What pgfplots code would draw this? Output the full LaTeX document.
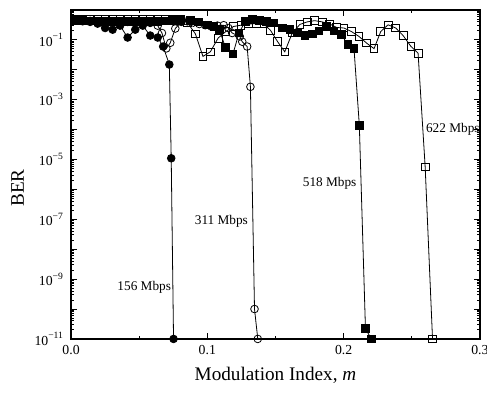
\documentclass[border=0pt]{standalone}
\usepackage{fontspec}
\setmainfont{Liberation Serif}
\usepackage{pgfplots}
\pgfplotsset{compat=1.18}
\begin{document}
\begin{tikzpicture}
\useasboundingbox (-44.4pt,-36.25pt) rectangle (260pt,211.85pt);
\begin{axis}[
  at={(0,0)}, anchor=south west,
  scale only axis, width=255.6pt, height=205.6pt,
  xmin=0, xmax=0.3, ymode=log, ymin=1e-11, ymax=1,
  axis line style={line width=0.8pt},
  tick align=inside, tick style={black, line width=0.6pt},
  major tick length=3.5pt, minor tick length=1.6pt,
  xtick={0,0.1,0.2,0.3}, xticklabels={0.0,0.1,0.2,0.3},
  minor x tick num=1,
  ytick={1e-11,1e-10,1e-9,1e-8,1e-7,1e-6,1e-5,1e-4,1e-3,1e-2,1e-1,1},
  minor ytick={2e-11,3e-11,4e-11,5e-11,6e-11,7e-11,8e-11,9e-11,
    2e-10,3e-10,4e-10,5e-10,6e-10,7e-10,8e-10,9e-10,
    2e-9,3e-9,4e-9,5e-9,6e-9,7e-9,8e-9,9e-9,
    2e-8,3e-8,4e-8,5e-8,6e-8,7e-8,8e-8,9e-8,
    2e-7,3e-7,4e-7,5e-7,6e-7,7e-7,8e-7,9e-7,
    2e-6,3e-6,4e-6,5e-6,6e-6,7e-6,8e-6,9e-6,
    2e-5,3e-5,4e-5,5e-5,6e-5,7e-5,8e-5,9e-5,
    2e-4,3e-4,4e-4,5e-4,6e-4,7e-4,8e-4,9e-4,
    2e-3,3e-3,4e-3,5e-3,6e-3,7e-3,8e-3,9e-3,
    2e-2,3e-2,4e-2,5e-2,6e-2,7e-2,8e-2,9e-2,
    2e-1,3e-1,4e-1,5e-1,6e-1,7e-1,8e-1,9e-1},
  yticklabels={10\textsuperscript{−11},,10\textsuperscript{−9},,10\textsuperscript{−7},,10\textsuperscript{−5},,10\textsuperscript{−3},,10\textsuperscript{−1},},
  ticklabel style={font=\fontsize{8.6}{10}\selectfont},
  xticklabel style={yshift=-0.5pt},
  yticklabel style={xshift=-1pt},
  xlabel={Modulation Index, \textit{m}},
  ylabel={BER},
  label style={font=\fontsize{12}{14}\selectfont},
  xlabel style={at={(axis description cs:0.5,-0.1095)}, anchor=center},
  ylabel style={at={(axis description cs:-0.1307,0.459)}, anchor=center},
  every axis plot/.append style={black, line width=0.5pt, mark size=2.4pt},
]
% 156 Mbps
\addplot[mark=*, mark options={fill=black}] coordinates {
(0.0029,0.45)(0.0085,0.42)(0.0140,0.40)(0.0195,0.35)(0.0250,0.25)(0.0305,0.22)
(0.0360,0.30)(0.0415,0.12)(0.0471,0.22)(0.0526,0.30)(0.0581,0.14)(0.0636,0.12)
(0.0676,0.06)(0.0721,0.015)(0.0735,1.1e-5)(0.0752,1e-11)};
% 311 Mbps
\addplot[mark=o, mark options={fill=white}] coordinates {
(0.0029,0.45)(0.0085,0.44)(0.0140,0.43)(0.0195,0.42)(0.0250,0.42)(0.0305,0.40)
(0.0360,0.42)(0.0415,0.40)(0.0471,0.40)(0.0526,0.38)(0.0581,0.37)(0.0636,0.30)
(0.0667,0.17)(0.0699,0.052)(0.0728,0.08)(0.0765,0.24)(0.0809,0.40)(0.0853,0.42)
(0.0897,0.38)(0.0941,0.34)(0.0985,0.31)(0.1029,0.28)(0.1074,0.30)(0.1120,0.31)
(0.1154,0.25)(0.1182,0.17)(0.1238,0.13)(0.1256,0.087)(0.1292,0.06)
(0.1316,2.7e-3)(0.1346,1e-10)(0.1370,1e-11)};
% 518 Mbps
\addplot[mark=square*, mark options={fill=black}] coordinates {
(0.0029,0.44)(0.0085,0.44)(0.0140,0.43)(0.0195,0.43)(0.0250,0.42)(0.0305,0.42)
(0.0360,0.43)(0.0415,0.42)(0.0471,0.42)(0.0526,0.43)(0.0581,0.42)(0.0636,0.42)
(0.0691,0.43)(0.0746,0.44)(0.0801,0.45)(0.0875,0.44)(0.0936,0.40)(0.0998,0.32)
(0.1047,0.28)(0.1088,0.22)(0.1132,0.057)(0.1188,0.034)(0.1232,0.17)(0.1279,0.42)
(0.1331,0.48)(0.1382,0.45)(0.1434,0.42)(0.1488,0.37)(0.1549,0.25)(0.1605,0.22)
(0.1660,0.17)(0.1716,0.14)(0.1770,0.16)(0.1819,0.20)(0.1875,0.28)(0.1929,0.20)
(0.1983,0.15)(0.2032,0.069)(0.2076,0.051)(0.2115,1.4e-4)(0.2160,2.2e-11)(0.2203,1e-11)};
% 622 Mbps
\addplot[mark=square, mark options={fill=white}] coordinates {
(0.0029,0.5)(0.0085,0.5)(0.0140,0.5)(0.0195,0.5)(0.0250,0.5)(0.0305,0.5)
(0.0360,0.5)(0.0415,0.5)(0.0471,0.5)(0.0526,0.5)(0.0581,0.5)(0.0636,0.5)
(0.0691,0.5)(0.0746,0.5)(0.0801,0.5)(0.0855,0.37)(0.0912,0.16)(0.0968,0.028)
(0.1022,0.04)(0.1079,0.115)(0.1135,0.19)(0.1191,0.28)(0.1246,0.31)(0.1301,0.34)
(0.1358,0.35)(0.1414,0.34)(0.1463,0.21)(0.1515,0.088)(0.1568,0.04)(0.1623,0.17)
(0.1679,0.33)(0.1733,0.40)(0.1787,0.44)(0.1843,0.40)(0.1897,0.34)(0.1949,0.26)
(0.2002,0.25)(0.2057,0.19)(0.2113,0.13)(0.2167,0.079)(0.2223,0.051)(0.2272,0.19)
(0.2326,0.32)(0.2382,0.25)(0.2436,0.14)(0.2493,0.061)(0.2546,0.036)
(0.2598,5.7e-6)(0.2652,1e-11)};
\node[font=\fontsize{8.3}{10}\selectfont] at (axis cs:0.0537,5.5e-10) {156 Mbps};
\node[font=\fontsize{8.3}{10}\selectfont] at (axis cs:0.1103,8.7e-8) {311 Mbps};
\node[font=\fontsize{8.3}{10}\selectfont] at (axis cs:0.1897,1.6e-6) {518 Mbps};
\node[font=\fontsize{8.3}{10}\selectfont] at (axis cs:0.2801,1.05e-4) {622 Mbps};
\end{axis}
\end{tikzpicture}
\end{document}
